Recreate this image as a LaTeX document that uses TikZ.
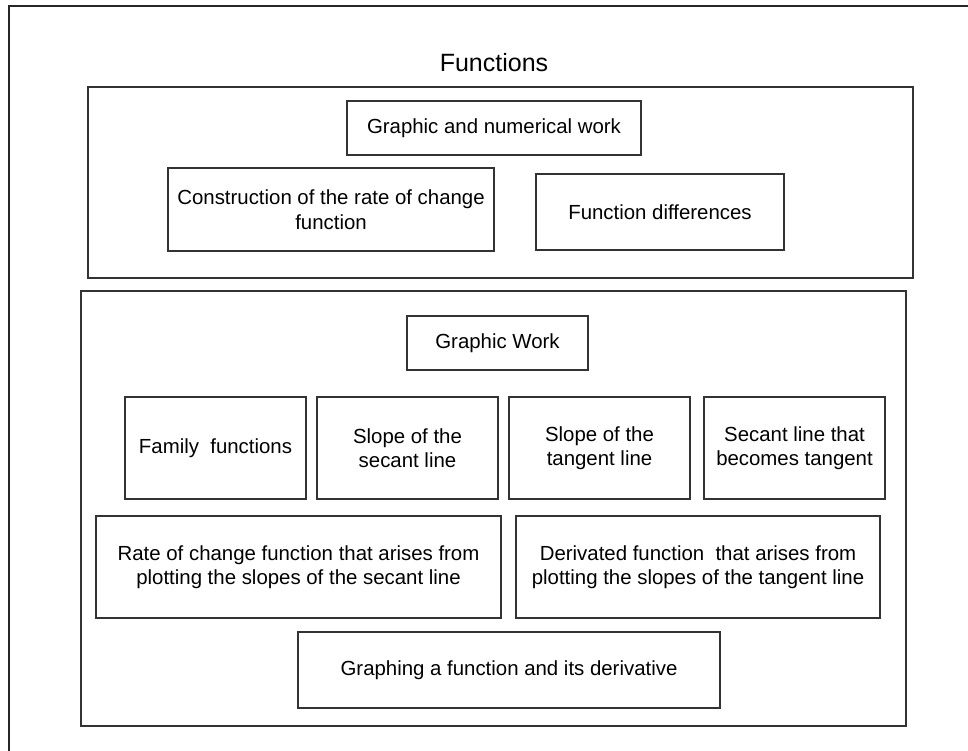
\documentclass[tikz,border=0pt]{standalone}
\usepackage{fontspec}
\setmainfont{Liberation Sans}
\begin{document}
\begin{tikzpicture}[x=1pt,y=-1pt,
	box/.style={draw=black!80,line width=1.1pt,rectangle,inner sep=0pt,align=center,
		font=\fontsize{20.4}{24.5}\selectfont},
	title/.style={font=\fontsize{25}{30}\selectfont}]
	\useasboundingbox(0,0)rectangle(968,751);
	\draw[black!85,line width=1.2pt](9,751)--(9,6)--(968,6);
	\node(T)at(494,72)[title,anchor=base]{Functions};
	% upper part
	\node(U)at(500.5,182.5)[box,minimum width=825,minimum height=191]{};
	\node(GN)at(494,128)[box,minimum width=294,minimum height=54]{Graphic and numerical work};
	\node(CR)at(331,209.5)[box,minimum width=326,minimum height=83]{Construction of the rate of change\\function};
	\node(FD)at(660,212)[box,minimum width=248,minimum height=76]{Function differences};
	% lower part
	\node(L)at(493.5,508.5)[box,minimum width=825,minimum height=435]{};
	\node(GW)at(497.5,343)[box,minimum width=181,minimum height=54]{Graphic Work};
	\node(FF)at(215.5,448)[box,minimum width=181,minimum height=102]{Family~~functions};
	\node(SS)at(407.5,448)[box,minimum width=181,minimum height=102]{Slope of the\\secant line};
	\node(ST)at(599.5,448)[box,minimum width=181,minimum height=102]{Slope of the\\tangent line};
	\node(SB)at(794.5,448)[box,minimum width=181,minimum height=102]{Secant line that\\becomes tangent};
	\node(RC)at(298.5,567)[box,minimum width=405,minimum height=102]{Rate of change function that arises from\\plotting the slopes of the secant line};
	\node(DF)at(698,567)[box,minimum width=364,minimum height=102]{Derivated function~~that arises from\\plotting the slopes of the tangent line};
	\node(GD)at(509,670)[box,minimum width=422,minimum height=76]{Graphing a function and its derivative};
\end{tikzpicture}
\end{document}
